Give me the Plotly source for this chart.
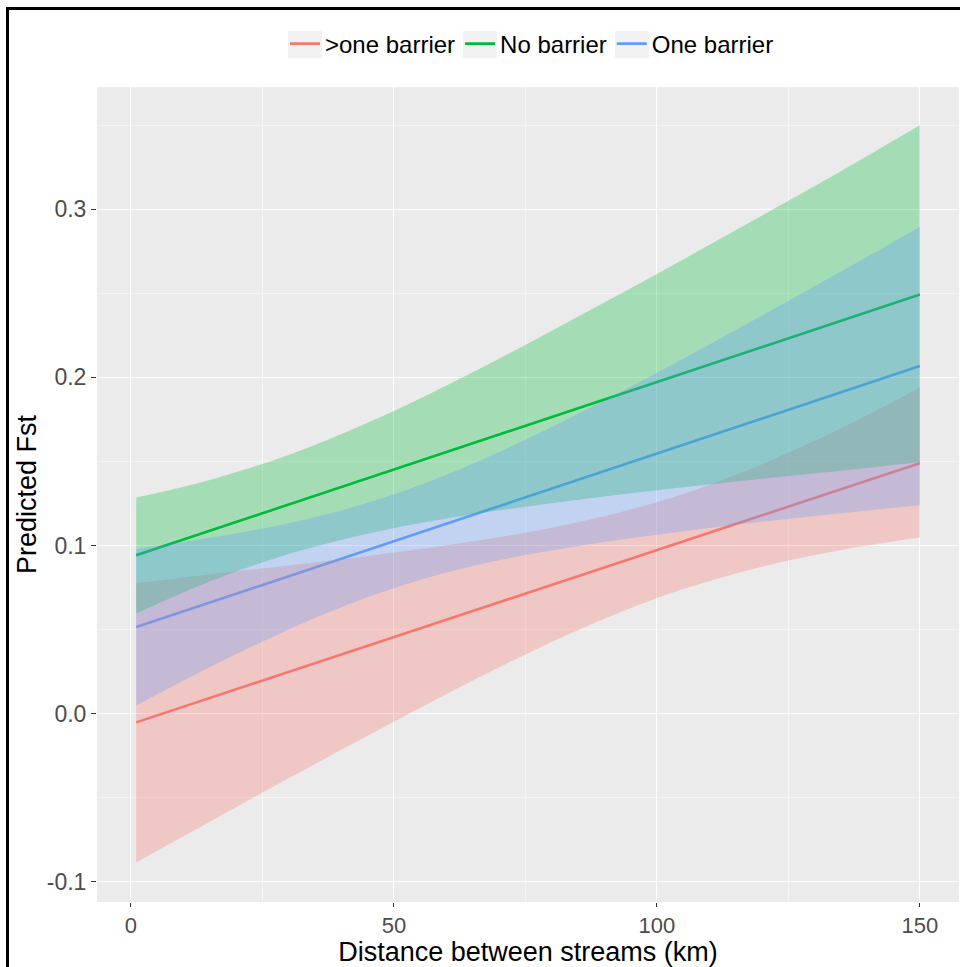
import plotly.graph_objects as go

# ---- data ----
groups = [">one barrier", "No barrier", "One barrier"]
line_colors = ["#F8766D", "#00BA38", "#619CFF"]
fill_colors = ["rgba(248,118,109,0.3)", "rgba(0,186,56,0.3)", "rgba(97,156,255,0.3)"]

# fitted lines (straight), endpoints
line_x = [1, 150]
red_fit = [-0.0052, 0.1490]
green_fit = [0.0942, 0.2493]
blue_fit = [0.0515, 0.2068]

# confidence bands
band_x = [1, 15, 30, 45, 60, 75, 90, 105, 120, 135, 150]
red_lower = [-0.0885, -0.0643, -0.0385, -0.0131, 0.0117, 0.0352, 0.0564, 0.0741, 0.0874, 0.0973, 0.1047]
red_upper = [0.0775, 0.0829, 0.0881, 0.0937, 0.1001, 0.1076, 0.1174, 0.1307, 0.1484, 0.1697, 0.1940]
green_lower = [0.0595, 0.0786, 0.0949, 0.1070, 0.1160, 0.1231, 0.1291, 0.1346, 0.1397, 0.1445, 0.1497]
green_upper = [0.1285, 0.1390, 0.1539, 0.1730, 0.1952, 0.2193, 0.2445, 0.2702, 0.2963, 0.3227, 0.3500]
blue_lower = [0.0049, 0.0276, 0.0501, 0.0692, 0.0839, 0.0943, 0.1021, 0.1085, 0.1141, 0.1192, 0.1239]
blue_upper = [0.0981, 0.1046, 0.1133, 0.1254, 0.1421, 0.1629, 0.1863, 0.2111, 0.2369, 0.2630, 0.2895]

x_ticks = [0, 50, 100, 150]
y_ticks = [-0.1, 0.0, 0.1, 0.2, 0.3]
y_tick_text = ["-0.1", "0.0", "0.1", "0.2", "0.3"]

fits = [red_fit, green_fit, blue_fit]
lowers = [red_lower, green_lower, blue_lower]
uppers = [red_upper, green_upper, blue_upper]

fig = go.Figure()

# lines first (ribbons are drawn over them in the reference)
for name, col, fit in zip(groups, line_colors, fits):
    fig.add_trace(go.Scatter(x=line_x, y=fit, mode="lines", name=name,
                             line=dict(color=col, width=2.6), showlegend=True))

for name, fc, lo, up in zip(groups, fill_colors, lowers, uppers):
    fig.add_trace(go.Scatter(x=band_x, y=lo, mode="lines",
                             line=dict(width=0, shape="spline", smoothing=1),
                             hoverinfo="skip", showlegend=False))
    fig.add_trace(go.Scatter(x=band_x, y=up, mode="lines", fill="tonexty", fillcolor=fc,
                             line=dict(width=0, shape="spline", smoothing=1),
                             hoverinfo="skip", showlegend=False))

W, H = 960, 967
L, R, T, B = 97, 1, 87, 65
pw, ph = W - L - R, H - T - B

def px2paper_x(p):
    return (p - L) / pw

def px2paper_y(p):
    return (H - B - p) / ph

font = "Liberation Sans, Arial, sans-serif"

fig.update_layout(
    width=W, height=H,
    margin=dict(l=L, r=R, t=T, b=B),
    paper_bgcolor="white",
    plot_bgcolor="#EBEBEB",
    font=dict(family=font, color="#000000"),
    legend=dict(orientation="h", x=px2paper_x(532), xanchor="center",
                y=px2paper_y(44), yanchor="middle", traceorder="normal",
                font=dict(size=24, color="#000000"), bgcolor="rgba(0,0,0,0)",
                itemwidth=30),
    xaxis=dict(range=[-6.45, 157.45], tickvals=x_ticks, ticktext=[str(v) for v in x_ticks],
               showgrid=True, gridcolor="white", gridwidth=1.1, zeroline=False,
               ticks="outside", ticklen=4, tickcolor="#333333", tickwidth=1,
               tickfont=dict(size=22, color="#4D4D4D"),
               minor=dict(tickvals=[25, 75, 125], showgrid=True, gridcolor="#F5F5F5", gridwidth=0.6, ticks=""),
               title=dict(text="Distance between streams (km)", font=dict(size=27, color="#000000"), standoff=7),
               showline=False),
    yaxis=dict(range=[-0.11205, 0.37275], tickvals=y_ticks, ticktext=y_tick_text,
               showgrid=True, gridcolor="white", gridwidth=1.1, zeroline=False,
               ticks="outside", ticklen=5, tickcolor="#333333", tickwidth=1,
               tickfont=dict(size=23, color="#4D4D4D"),
               minor=dict(tickvals=[-0.05, 0.05, 0.15, 0.25, 0.35], showgrid=True, gridcolor="#F5F5F5", gridwidth=0.6, ticks=""),
               title=dict(text="Predicted Fst", font=dict(size=27, color="#000000"), standoff=2),
               showline=False),
)

# grey legend key backgrounds (ggplot style), placed behind the legend symbols
for text_start in [325, 500, 652]:
    fig.add_shape(type="rect", xref="paper", yref="paper", layer="above",
                  x0=px2paper_x(text_start - 37), x1=px2paper_x(text_start - 3),
                  y0=px2paper_y(58), y1=px2paper_y(31),
                  fillcolor="#F2F2F2", line=dict(width=0))

# black frame (left and top edges visible in the reference)
fig.add_shape(type="line", xref="paper", yref="paper",
              x0=px2paper_x(7.5), x1=px2paper_x(7.5), y0=px2paper_y(7), y1=px2paper_y(980),
              line=dict(color="black", width=3))
fig.add_shape(type="line", xref="paper", yref="paper",
              x0=px2paper_x(6), x1=px2paper_x(970), y0=px2paper_y(8.5), y1=px2paper_y(8.5),
              line=dict(color="black", width=3))

fig.write_html("out.html")
